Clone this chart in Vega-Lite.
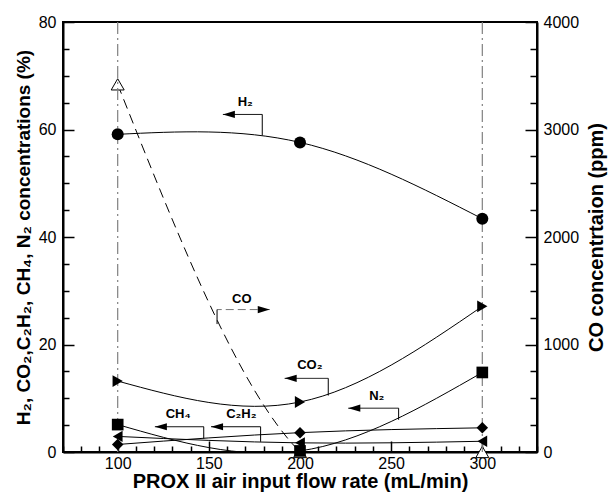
{
  "$schema": "https://vega.github.io/schema/vega-lite/v6.json",
  "width": 474,
  "height": 430,
  "autosize": {"type": "none"},
  "padding": {"left": 63, "top": 22, "right": 74, "bottom": 40},
  "background": "white",
  "config": {
    "view": {"stroke": "black", "strokeWidth": 2},
    "font": "Liberation Sans",
    "axis": {"grid": false, "labelFont": "Liberation Sans", "titleFont": "Liberation Sans", "labelColor": "black", "titleColor": "black", "tickColor": "black", "domainColor": "black"}
  },
  "datasets": {
    "series": [
      {"series": "H2", "flow": 100, "pct": 59.1},
      {"series": "H2", "flow": 200, "pct": 57.6},
      {"series": "H2", "flow": 300, "pct": 43.4},
      {"series": "CO2", "flow": 100, "pct": 13.2},
      {"series": "CO2", "flow": 200, "pct": 9.3},
      {"series": "CO2", "flow": 300, "pct": 27.1},
      {"series": "N2", "flow": 100, "pct": 5.1},
      {"series": "N2", "flow": 200, "pct": 0.2},
      {"series": "N2", "flow": 300, "pct": 14.8},
      {"series": "CH4", "flow": 100, "pct": 1.4},
      {"series": "CH4", "flow": 200, "pct": 3.6},
      {"series": "CH4", "flow": 300, "pct": 4.5},
      {"series": "C2H2", "flow": 100, "pct": 2.9},
      {"series": "C2H2", "flow": 200, "pct": 1.7},
      {"series": "C2H2", "flow": 300, "pct": 2.0}
    ],
    "co": [
      {"flow": 100, "ppm": 3420},
      {"flow": 200, "ppm": 0},
      {"flow": 300, "ppm": 0}
    ],
    "guides": [{"flow": 100}, {"flow": 300}],
    "notes": [
      {"label": "H₂", "lx": 170, "ly": 65.1, "tip": 157.7, "base": 179.3, "ay": 62.8, "end": 58.9},
      {"label": "CO", "lx": 168.1, "ly": 28.4, "tip": 183.4, "base": 154.5, "ay": 26.5, "end": 23.8},
      {"label": "CO₂", "lx": 205.4, "ly": 16.1, "tip": 191.6, "base": 215.5, "ay": 13.7, "end": 10.5},
      {"label": "N₂", "lx": 242.1, "ly": 10.4, "tip": 226.5, "base": 254.1, "ay": 8.15, "end": 6.0},
      {"label": "CH₄", "lx": 133.2, "ly": 7.0, "tip": 120.4, "base": 147.2, "ay": 4.7, "end": 2.5},
      {"label": "C₂H₂", "lx": 167.8, "ly": 7.0, "tip": 151.2, "base": 178.4, "ay": 4.7, "end": 1.9}
    ]
  },
  "layer": [
    {
      "data": {"name": "co"},
      "mark": {"type": "line", "interpolate": "natural", "clip": true, "color": "black", "strokeWidth": 1, "strokeDash": [10, 6]},
      "encoding": {
        "x": {"field": "flow", "type": "quantitative", "scale": {"domain": [70, 330], "nice": false, "zero": false}, "axis": null},
        "y": {
          "field": "ppm", "type": "quantitative",
          "scale": {"domain": [0, 4000], "nice": false},
          "axis": {
            "orient": "right",
            "title": "CO concentrtaion (ppm)",
            "values": [0, 250, 500, 750, 1000, 1250, 1500, 1750, 2000, 2250, 2500, 2750, 3000, 3250, 3500, 3750, 4000],
            "format": "d",
            "labelExpr": "datum.value % 1000 === 0 ? datum.label : ''",
            "tickSize": {"condition": {"test": "datum.value % 1000 === 0", "value": -12}, "value": -7},
            "tickWidth": 1.5,
            "domainWidth": 2,
            "labelFontSize": 16,
            "labelPadding": 18,
            "labelOverlap": false,
            "labelFlush": false,
            "titleFontSize": 20,
            "titleFontWeight": "bold",
            "titleAngle": 270,
            "titleBaseline": "top",
            "titlePadding": 8
          }
        }
      }
    },
    {
      "data": {"name": "co"},
      "mark": {"type": "point", "shape": "triangle-up", "filled": true, "fill": "white", "stroke": "black", "strokeWidth": 1, "size": 169, "opacity": 1},
      "encoding": {
        "x": {"field": "flow", "type": "quantitative", "scale": {"domain": [70, 330], "nice": false, "zero": false}, "axis": null},
        "y": {"field": "ppm", "type": "quantitative", "scale": {"domain": [0, 4000], "nice": false}, "axis": null}
      }
    },
    {
      "data": {"name": "guides"},
      "mark": {"type": "rule", "color": "#808080", "strokeWidth": 1.2, "strokeDash": [12, 4, 2, 4]},
      "encoding": {
        "x": {"field": "flow", "type": "quantitative", "scale": {"domain": [70, 330], "nice": false, "zero": false},
          "axis": {"orient": "bottom", "title": "PROX II air input flow rate (mL/min)", "values": [70, 80, 90, 100, 110, 120, 130, 140, 150, 160, 170, 180, 190, 200, 210, 220, 230, 240, 250, 260, 270, 280, 290, 300, 310, 320, 330], "labelExpr": "datum.value % 50 === 0 ? datum.label : ''", "tickSize": {"condition": {"test": "datum.value % 50 === 0", "value": -11}, "value": -6}, "tickWidth": 1.5, "domainWidth": 2, "labelFontSize": 16, "labelPadding": 14, "labelOverlap": false, "labelFlush": false, "titleFontSize": 20, "titleFontWeight": "bold", "titlePadding": -5}}
      }
    },
    {
      "data": {"name": "series"},
      "mark": {"type": "line", "interpolate": "natural", "clip": true, "color": "black", "strokeWidth": 1},
      "encoding": {
        "x": {"field": "flow", "type": "quantitative", "scale": {"domain": [70, 330], "nice": false, "zero": false}, "axis": null},
        "y": {
          "field": "pct", "type": "quantitative",
          "scale": {"domain": [0, 80], "nice": false},
          "axis": {
            "orient": "left",
            "title": "H₂, CO₂,C₂H₂, CH₄, N₂ concentrations (%)",
            "values": [0, 5, 10, 15, 20, 25, 30, 35, 40, 45, 50, 55, 60, 65, 70, 75, 80],
            "labelExpr": "datum.value % 20 === 0 ? datum.label : ''",
            "tickSize": {"condition": {"test": "datum.value % 20 === 0", "value": -11}, "value": -6},
            "tickWidth": 1.5,
            "domainWidth": 2,
            "labelFontSize": 16,
            "labelPadding": 18,
            "labelOverlap": false,
            "labelFlush": false,
            "titleFontSize": 19,
            "titleFontWeight": "bold",
            "titlePadding": 5
          }
        },
        "detail": {"field": "series", "type": "nominal"}
      }
    },
    {
      "data": {"name": "series"},
      "mark": {"type": "point", "filled": true, "opacity": 1, "color": "black"},
      "encoding": {
        "x": {"field": "flow", "type": "quantitative", "scale": {"domain": [70, 330], "nice": false, "zero": false}, "axis": null},
        "y": {"field": "pct", "type": "quantitative", "scale": {"domain": [0, 80], "nice": false}, "axis": null},
        "shape": {"field": "series", "type": "nominal", "scale": {"domain": ["H2", "CO2", "N2", "CH4", "C2H2"], "range": ["circle", "triangle-right", "square", "diamond", "triangle-left"]}, "legend": null},
        "size": {"field": "series", "type": "ordinal", "scale": {"domain": ["H2", "CO2", "N2", "CH4", "C2H2"], "range": [144, 128, 137, 196, 128]}, "legend": null}
      }
    },
    {
      "data": {"name": "notes"},
      "mark": {"type": "rule", "strokeWidth": 1},
      "encoding": {
        "x": {"field": "tip", "type": "quantitative", "scale": {"domain": [70, 330], "nice": false, "zero": false}, "axis": null},
        "x2": {"field": "base"},
        "y": {"field": "ay", "type": "quantitative", "scale": {"domain": [0, 80], "nice": false}, "axis": null},
        "color": {"condition": {"test": "datum.label === 'CO'", "value": "#777777"}, "value": "black"},
        "strokeDash": {"condition": {"test": "datum.label === 'CO'", "value": [8, 4]}, "value": [1, 0]}
      }
    },
    {
      "data": {"name": "notes"},
      "mark": {"type": "rule", "strokeWidth": 1, "color": "black"},
      "encoding": {
        "x": {"field": "base", "type": "quantitative", "scale": {"domain": [70, 330], "nice": false, "zero": false}, "axis": null},
        "y": {"field": "ay", "type": "quantitative", "scale": {"domain": [0, 80], "nice": false}, "axis": null},
        "y2": {"field": "end"}
      }
    },
    {
      "data": {"name": "notes"},
      "mark": {"type": "point", "filled": true, "opacity": 1, "color": "black", "size": 36},
      "encoding": {
        "x": {"field": "tip", "type": "quantitative", "scale": {"domain": [70, 330], "nice": false, "zero": false}, "axis": null},
        "y": {"field": "ay", "type": "quantitative", "scale": {"domain": [0, 80], "nice": false}, "axis": null},
        "shape": {"condition": {"test": "datum.label === 'CO'", "value": "M0,0L-4,-1.2L-4,1.2Z"}, "value": "M0,0L4,-1.2L4,1.2Z"}
      }
    },
    {
      "data": {"name": "notes"},
      "mark": {"type": "text", "font": "Liberation Sans", "fontWeight": "bold", "fontSize": 13, "align": "center", "baseline": "middle", "color": "black"},
      "encoding": {
        "x": {"field": "lx", "type": "quantitative", "scale": {"domain": [70, 330], "nice": false, "zero": false}, "axis": null},
        "y": {"field": "ly", "type": "quantitative", "scale": {"domain": [0, 80], "nice": false}, "axis": null},
        "text": {"field": "label"}
      }
    }
  ],
  "resolve": {"scale": {"y": "independent"}, "axis": {"x": "independent"}}
}
